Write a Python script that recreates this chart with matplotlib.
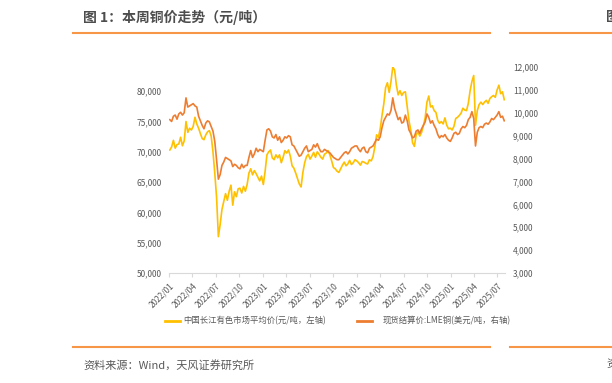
import matplotlib.pyplot as plt
import pandas as pd
from matplotlib.lines import Line2D
from matplotlib.ticker import FuncFormatter

plt.rcParams['font.family'] = ['Noto Sans CJK SC', 'DejaVu Sans']

# 周度取值(每周一)，2022-01-03 起
# 中国长江有色市场平均价 (元/吨，左轴)
cj_2022 = [70300, 70800, 71900, 70600, 71200,
           71300, 72400, 71000, 71800,
           75000, 73200, 73900, 73600,
           74200, 75700, 74600, 73900,
           73000, 72200, 72000, 72800, 73300,
           73500, 72600, 70000, 66500,
           62500, 56000, 58000, 60500,
           61800, 63100, 62000, 63500, 64500,
           61200, 63400, 62600, 63900,
           64000, 63200, 64300, 63500, 64600,
           66500, 67200, 66200, 66900,
           66400, 65800, 65200, 66000]
cj_2023 = [64600, 66800, 69500, 70000, 70300,
           69000, 68700, 69500, 69000,
           69500, 68200, 69100, 70200,
           69800, 70300, 69300, 67700,
           67300, 66500, 65600, 64700, 64200,
           66600, 68200, 69200, 69600,
           68800, 69300, 69900, 69100, 70000,
           69600, 69100, 68800, 69600,
           69800, 70200, 69500, 68500,
           67400, 67200, 66800, 66600, 67200,
           67800, 68300, 67700, 68000,
           68600, 67900, 68200, 68700]
cj_2024 = [68500, 68200, 67800, 68400, 68300,
           68100, 68000, 68700, 68500,
           69200, 70800, 72800, 72400,
           73800, 76000, 77900, 80600, 81400,
           79800, 81600, 84000, 83500,
           81000, 79400, 80100, 79300,
           79800, 79900, 77500, 75100, 73600,
           71500, 70900, 72800, 73300,
           72600, 73200, 74300, 75600, 78200,
           79200, 77400, 77600, 76800,
           76500, 75200, 74700, 75000,
           74600, 75600, 74400, 73800, 73900]
cj_2025 = [73600, 74200, 75500, 75700,
           76000, 76400, 77200, 76900,
           76800, 78000, 80100, 81600, 82600,
           74400, 76800, 77800, 78200,
           77800, 78200, 78500, 78000,
           78800, 79100, 79300, 79000, 80200,
           81000, 79600, 79900, 78600]

# 现货结算价:LME铜 (美元/吨，右轴)
lme_2022 = [9700, 9620, 9850, 9900, 9720,
            9950, 10020, 9900, 10000,
            10650, 10250, 10300, 10350,
            10400, 10300, 10250, 9850,
            9650, 9450, 9300, 9550, 9650,
            9600, 9400, 9200, 8750,
            7950, 7100, 7300, 7700,
            7850, 8050, 8000, 7950, 7900,
            7650, 7750, 7700, 7600,
            7550, 7750, 7600, 7700, 7700,
            8050, 8350, 8050, 8200,
            8450, 8300, 8400, 8350]
lme_2023 = [8300, 8800, 9250, 9300, 9200,
            8950, 8900, 9050, 8800,
            8950, 8700, 8800, 8950,
            8900, 9000, 8950, 8600,
            8550, 8400, 8250, 8100, 8150,
            8300, 8450, 8550, 8300,
            8350, 8400, 8600, 8500, 8650,
            8450, 8300, 8300, 8400,
            8350, 8300, 8250, 8150,
            8050, 8000, 7950, 7950, 8050,
            8150, 8250, 8300, 8200,
            8300, 8450, 8500, 8550]
lme_2024 = [8550, 8400, 8300, 8450, 8500,
            8300, 8250, 8450, 8500,
            8550, 8700, 8850, 8800,
            8950, 9350, 9650, 9800, 9950,
            9900, 10100, 10650, 10200,
            9950, 9700, 9800, 9550,
            9600, 9900, 9650, 9250, 9100,
            8900, 8950, 9200, 9250,
            9100, 9300, 9450, 9600, 9950,
            9800, 9550, 9650, 9450,
            9300, 9050, 8900, 9000,
            8950, 9050, 8900, 8800, 8750]
lme_2025 = [8900, 9100, 9150, 9050,
            9100, 9300, 9400, 9350,
            9450, 9700, 9800, 10050, 9750,
            8550, 9150, 9350, 9400,
            9350, 9500, 9550, 9500,
            9600, 9750, 9700, 9800, 9900,
            10050, 9800, 9850, 9650]

cj = cj_2022 + cj_2023 + cj_2024 + cj_2025
lme = lme_2022 + lme_2023 + lme_2024 + lme_2025
dates = pd.date_range('2022-01-03', periods=len(cj), freq='7D')

tick_dates = pd.date_range('2022-01-01', '2025-07-01', freq='QS')
tick_labels = [d.strftime('%Y/%m') for d in tick_dates]

W, H = 612, 383
fig = plt.figure(figsize=(W / 100, H / 100), dpi=100)
ax = fig.add_axes([169.3 / W, (H - 273) / H, 336 / W, 206 / H])
ax2 = ax.twinx()

yellow = '#FFC000'
orange = '#ED7D31'
grey = '#595959'

ax.plot(dates, cj, color=yellow, lw=1.2, zorder=2)
ax2.plot(dates, lme, color=orange, lw=1.2, zorder=3)

ax.set_xlim(pd.Timestamp('2022-01-01'), pd.Timestamp('2025-08-01'))
ax.set_ylim(50000, 84000)
ax2.set_ylim(3000, 12000)
ax.set_yticks(range(50000, 80001, 5000))
ax2.set_yticks(range(3000, 12001, 1000))
fmt = FuncFormatter(lambda v, p: f'{int(v):,}')
ax.yaxis.set_major_formatter(fmt)
ax2.yaxis.set_major_formatter(fmt)

ax.set_xticks(tick_dates)
ax.set_xticklabels(tick_labels, rotation=45, ha='right', va='top',
                   rotation_mode='anchor', fontsize=6, color=grey)

for a in (ax, ax2):
    for s in ('top', 'left', 'right', 'bottom'):
        a.spines[s].set_visible(False)
    a.tick_params(axis='y', length=0, labelsize=6, labelcolor=grey, pad=5.5)
ax.spines['bottom'].set_visible(True)
ax.spines['bottom'].set_color('#D9D9D9')
ax.spines['bottom'].set_linewidth(0.8)
ax.tick_params(axis='x', length=3, color='#D9D9D9', pad=3)

# 图例
ly = 1 - 321 / H
fig.add_artist(Line2D([165 / W, 180 / W], [ly, ly], color=yellow, lw=2))
fig.text(183 / W, ly, '中国长江有色市场平均价(元/吨，左轴)', fontsize=6,
         color=grey, va='center')
fig.add_artist(Line2D([357 / W, 372 / W], [ly, ly], color=orange, lw=2))
fig.text(383 / W, ly, '现货结算价:LME铜(美元/吨，右轴)', fontsize=6,
         color=grey, va='center')

# 标题、分隔线和来源
line_c = '#F79646'
for yy in (33, 347):
    fig.add_artist(Line2D([73 / W, 490 / W], [1 - yy / H] * 2, color=line_c, lw=1.5))
    fig.add_artist(Line2D([510 / W, 1], [1 - yy / H] * 2, color=line_c, lw=1.5))
fig.text(83 / W, 1 - 17 / H, '图 1：本周铜价走势（元/吨）', fontsize=10,
         fontweight='bold', color='#4D4D4D', va='center')
# 右侧相邻图表被截断的标题和来源
fig.text(606 / W, 1 - 17 / H, '图', fontsize=10, fontweight='bold',
         color='#4D4D4D', va='center')
fig.text(606 / W, 1 - 365 / H, '资', fontsize=8, color=grey, va='center')
fig.text(83 / W, 1 - 365 / H, '资料来源：Wind，天风证券研究所', fontsize=8,
         color=grey, va='center')

fig.savefig('out.png', dpi=100)
